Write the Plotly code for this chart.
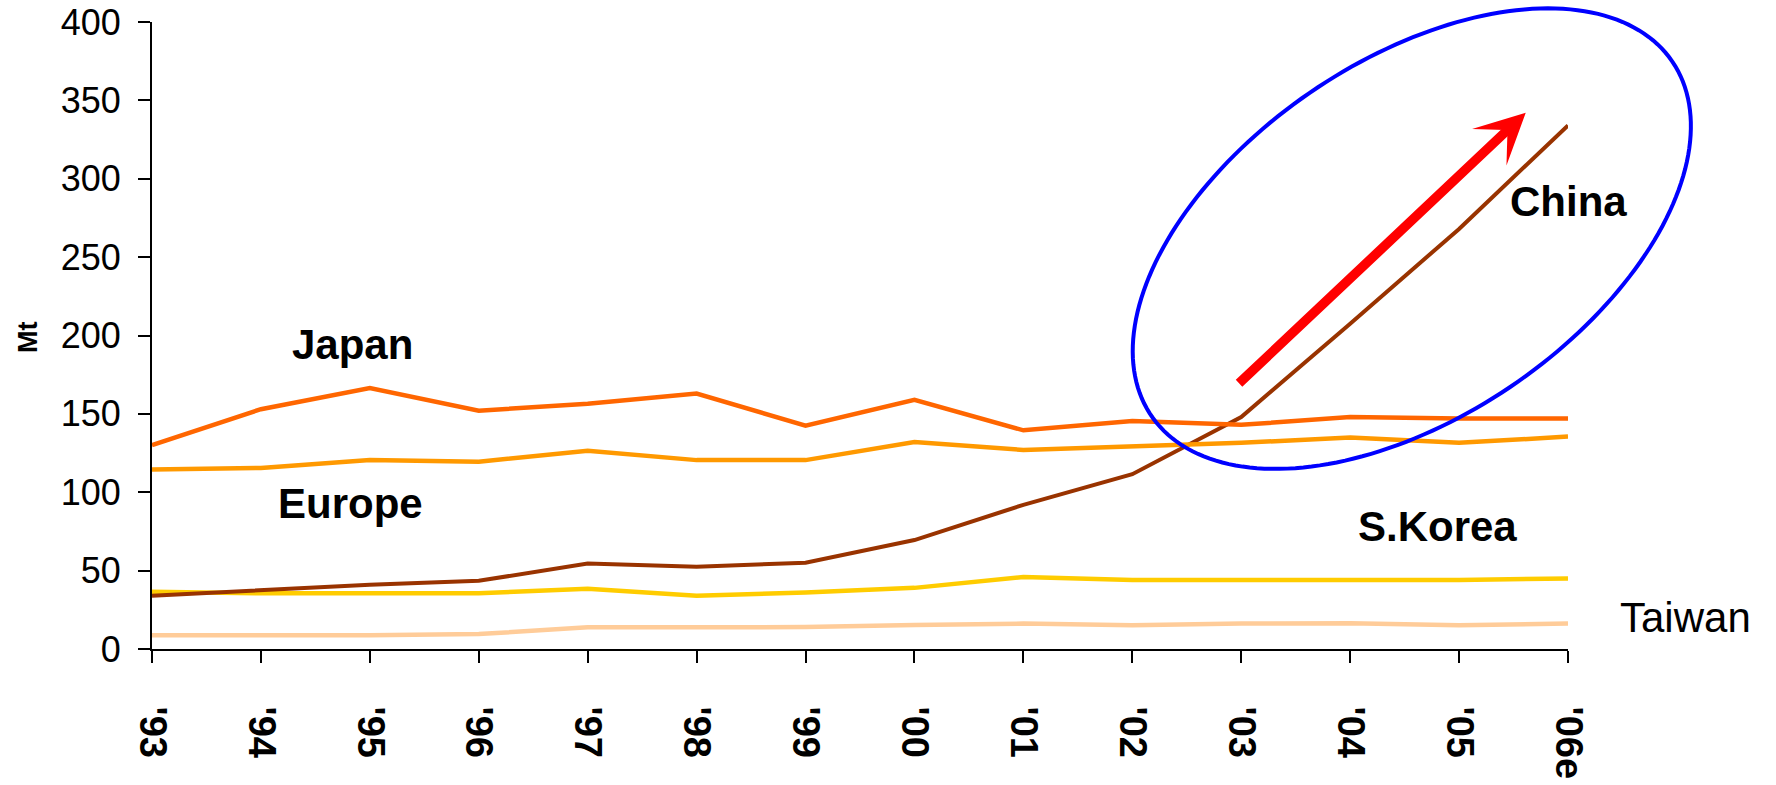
import numpy as np
import plotly.graph_objects as go

years = ["'93", "'94", "'95", "'96", "'97", "'98", "'99", "'00", "'01", "'02", "'03", "'04", "'05", "'06e"]
japan = [130, 153, 166.5, 152, 156.5, 163, 142.5, 159, 139.5, 145.5, 143, 148, 147, 147]
europe = [114.5, 115.5, 120.5, 119.5, 126.5, 120.5, 120.5, 132, 127, 129.5, 131.5, 135, 131.5, 135.5]
china = [34, 37.5, 41, 43.5, 54.5, 52.5, 55, 69.5, 92, 111.5, 148, 207.5, 268, 334]
korea = [36.5, 35.5, 35.5, 35.5, 38.5, 34, 36, 39, 46, 44, 44, 44, 44, 45]
taiwan = [8.7, 8.7, 8.7, 9.5, 13.8, 13.8, 14, 15.3, 16.2, 15.1, 16.2, 16.5, 15.1, 16.2]
y_ticks = [0, 50, 100, 150, 200, 250, 300, 350, 400]

W, H = 1776, 785
ML, MR, MT, MB = 152, 208, 22, 136
PW, PH = W - ML - MR, H - MT - MB
XMAX, YMAX = len(years) - 1, 400

xs = list(range(len(years)))
FONT = "Liberation Sans, Arial, sans-serif"

fig = go.Figure()
series = [
    ("Taiwan", taiwan, "#FFCC99", 4.5),
    ("S.Korea", korea, "#FFCC00", 4.5),
    ("China", china, "#993300", 4),
    ("Europe", europe, "#FF9900", 4.5),
    ("Japan", japan, "#FF6600", 4.5),
]
for name, vals, col, w in series:
    fig.add_trace(go.Scatter(x=xs, y=vals, mode="lines", name=name,
                             line=dict(color=col, width=w), showlegend=False,
                             hoverinfo="skip"))

# ellipse (annotation), center in data units, radii in pixels
cx, cy = 11.566, 261.8
a_px, b_px, theta = 315, 178, np.deg2rad(34.2)
t = np.linspace(0, 2 * np.pi, 200)
dx = a_px * np.cos(t) * np.cos(theta) - b_px * np.sin(t) * np.sin(theta)
dy = a_px * np.cos(t) * np.sin(theta) + b_px * np.sin(t) * np.cos(theta)
px0 = cx / XMAX + dx / PW
py0 = cy / YMAX + dy / PH
path = "M " + " L ".join(f"{u:.5f},{v:.5f}" for u, v in zip(px0, py0)) + " Z"
fig.add_shape(type="path", path=path, xref="paper", yref="paper",
              line=dict(color="#0000FF", width=4), layer="above")

# red arrow
fig.add_annotation(x=12.612, y=342.1, ax=9.966, ay=168.6, xref="x", yref="y",
                   axref="x", ayref="y", showarrow=True, arrowhead=3,
                   arrowwidth=9.5, arrowsize=0.88, arrowcolor="#FF0000", text="")

labels = [
    ("Japan", 1.838, 194.0),
    ("Europe", 1.820, 92.7),
    ("China", 13.0, 285.6),
    ("S.Korea", 11.806, 78.2),
]
for txt, x, y in labels:
    fig.add_annotation(x=x, y=y, xref="x", yref="y", text=f"<b>{txt}</b>",
                       showarrow=False, font=dict(family=FONT, size=42, color="black"),
                       xanchor="center", yanchor="middle")

fig.add_annotation(x=1 + (1685.5 - ML - PW) / PW, y=(H - MB - 617.5) / PH,
                   xref="paper", yref="paper", text="Taiwan", showarrow=False,
                   font=dict(family=FONT, size=42, color="black"),
                   xanchor="center", yanchor="middle")

fig.add_annotation(x=-(ML - 27.5) / PW, y=(H - MB - 337.5) / PH, xref="paper", yref="paper",
                   text="<b>Mt</b>", textangle=-90, showarrow=False,
                   xanchor="center", yanchor="middle",
                   font=dict(family=FONT, size=27, color="black"))

fig.update_layout(
    width=W, height=H, margin=dict(l=ML, r=MR, t=MT, b=MB, pad=0, autoexpand=False),
    plot_bgcolor="white", paper_bgcolor="white",
    xaxis=dict(range=[0, XMAX], tickvals=xs, ticktext=years, tickangle=90,
               automargin=False,
               showgrid=False, zeroline=False, showline=True, linecolor="black",
               linewidth=2, ticks="outside", ticklen=12, tickwidth=2, tickcolor="black",
               tickfont=dict(family=FONT, size=38, color="black", weight="bold"),
               ticklabelstandoff=36),
    yaxis=dict(range=[0, YMAX], tickvals=y_ticks, showgrid=False, zeroline=False,
               automargin=False,
               showline=True, linecolor="black", linewidth=2, ticks="outside",
               ticklen=12, tickwidth=2, tickcolor="black",
               tickfont=dict(family=FONT, size=36, color="black"),
               ticklabelstandoff=10),
    yaxis2=dict(range=[0, YMAX], tickvals=y_ticks, overlaying="y", side="left",
                anchor="x", showgrid=False, zeroline=False, showline=False,
                automargin=False,
                ticks="inside", ticklen=12, tickwidth=2, tickcolor="black",
                showticklabels=False),
)

fig.write_html("out.html")
